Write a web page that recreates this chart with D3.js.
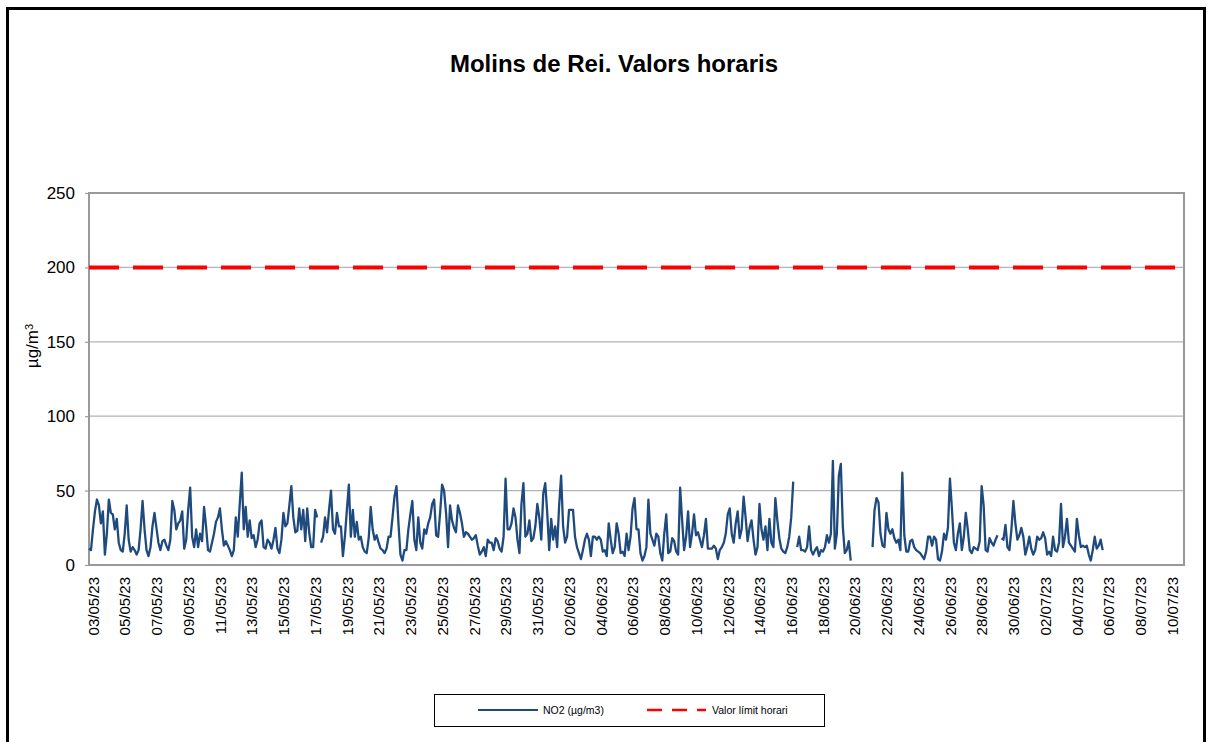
<!DOCTYPE html>
<html lang="ca">
<head>
    <meta charset="UTF-8">
    <title>Molins de Rei. Valors horaris</title>
    <script src="https://d3js.org/d3.v7.min.js"></script>
    <style>
        body {
            margin: 0;
            background: #fff;
            font-family: "Liberation Sans", Arial, sans-serif;
        }
        svg text {
            font-family: "Liberation Sans", Arial, sans-serif;
            fill: #000;
        }
    </style>
</head>
<body>
    <div id="chart"></div>
    <script>
        // first sample and spacing of the NO2 series (3-hour samples)
        var seriesStart = "03/05/23 00:00";
        var stepHours = 3;

        // NO2 (µg/m3), one row per day, 8 values a day (00h, 03h ... 21h); null = no data
        var no2Values = [
            11, 10, 24, 36, 44, 40, 28, 36,   // 03/05
            7, 21, 44, 35, 34, 24, 31, 15,    // 04/05
            10, 9, 21, 40, 17, 9, 12, 10,     // 05/05
            7, 10, 24, 43, 24, 10, 6, 12,     // 06/05
            26, 35, 25, 15, 10, 16, 17, 13,   // 07/05
            10, 17, 43, 37, 24, 28, 30, 36,   // 08/05
            11, 17, 37, 52, 19, 12, 24, 12,   // 09/05
            21, 16, 39, 26, 10, 9, 15, 21,    // 10/05
            29, 32, 38, 24, 13, 16, 13, 10,   // 11/05
            6, 10, 32, 19, 41, 62, 24, 39,    // 12/05
            19, 30, 18, 20, 12, 17, 28, 30,   // 13/05
            12, 11, 17, 15, 11, 17, 25, 11,   // 14/05
            8, 17, 35, 26, 28, 40, 53, 32,    // 15/05
            22, 23, 38, 24, 37, 16, 38, 22,   // 16/05
            12, 12, 37, 32, null, 15, 19, 32, // 17/05
            22, 37, 50, 24, 21, 35, 26, 26,   // 18/05
            6, 19, 37, 54, 19, 37, 19, 29,    // 19/05
            17, 19, 12, 9, 8, 18, 39, 24,     // 20/05
            17, 20, 15, 11, 10, 8, 11, 19,    // 21/05
            19, 32, 46, 53, 28, 7, 3, 10,     // 22/05
            10, 24, 34, 43, 17, 10, 32, 15,   // 23/05
            11, 24, 21, 28, 32, 41, 44, 20,   // 24/05
            19, 35, 54, 50, 35, 12, 40, 30,   // 25/05
            25, 22, 40, 35, 28, 19, 22, 21,   // 26/05
            19, 17, 18, 20, 13, 7, 9, 12,     // 27/05
            6, 17, 15, 15, 10, 18, 16, 11,    // 28/05
            9, 19, 58, 24, 24, 28, 38, 32,    // 29/05
            17, 8, 41, 55, 19, 21, 30, 16,    // 30/05
            18, 26, 41, 32, 17, 48, 55, 35,   // 31/05
            10, 31, 17, 26, 12, 40, 60, 26,   // 01/06
            15, 19, 37, 37, 37, 19, 12, 8,    // 02/06
            4, 10, 17, 21, 17, 6, 19, 19,     // 03/06
            17, 19, 17, 9, 10, 6, 28, 17,     // 04/06
            8, 12, 28, 21, 8, 9, 6, 21,       // 05/06
            10, 19, 38, 45, 24, 24, 8, 3,     // 06/06
            6, 12, 44, 21, 17, 13, 21, 19,    // 07/06
            8, 3, 21, 34, 8, 9, 18, 16,       // 08/06
            9, 7, 52, 30, 10, 19, 36, 12,     // 09/06
            21, 34, 20, 22, 17, 12, 20, 31,   // 10/06
            11, 11, 11, 13, 11, 4, 10, 12,    // 11/06
            15, 21, 34, 38, 21, 15, 28, 36,   // 12/06
            18, 24, 46, 32, 16, 25, 30, 17,   // 13/06
            7, 12, 41, 24, 17, 26, 10, 31,    // 14/06
            15, 12, 45, 30, 18, 11, 9, 8,     // 15/06
            12, 19, 32, 56, null, 12, 19, 10, // 16/06
            10, 9, 12, 26, 10, 7, 10, 12,     // 17/06
            6, 10, 9, 12, 20, 15, 21, 70,     // 18/06
            11, 21, 60, 68, 26, 8, 10, 16,    // 19/06
            3, null, null, null, null, null, null, null, // 20/06
            null, null, null, 12, 37, 45, 42, 21,        // 21/06
            13, 12, 35, 24, 21, 24, 18, 15,   // 22/06
            17, 10, 62, 20, 9, 9, 16, 17,     // 23/06
            12, 10, 9, 8, 6, 4, 9, 19,        // 24/06
            19, 13, 19, 17, 4, 3, 9, 21,      // 25/06
            17, 25, 58, 38, 15, 10, 21, 28,   // 26/06
            10, 19, 35, 24, 10, 8, 12, 11,    // 27/06
            10, 16, 53, 40, 10, 9, 18, 15,    // 28/06
            13, 17, 20, null, 18, 17, 27, 12, // 29/06
            10, 24, 43, 28, 17, 20, 25, 19,   // 30/06
            7, 12, 19, 11, 7, 10, 19, 17,     // 01/07
            18, 22, 18, 7, 9, 6, 19, 10,      // 02/07
            9, 15, 41, 12, 19, 31, 15, 13,    // 03/07
            11, 9, 31, 20, 12, 13, 12, 13,    // 04/07
            7, 3, 10, 19, 11, 13, 17, 10      // 05/07
        ];

        var limitValue = 200;

        var xDomain = ["03/05/23", "11/07/23"];
        var xTickLabels = [
            "03/05/23", "05/05/23", "07/05/23", "09/05/23", "11/05/23", "13/05/23",
            "15/05/23", "17/05/23", "19/05/23", "21/05/23", "23/05/23", "25/05/23",
            "27/05/23", "29/05/23", "31/05/23", "02/06/23", "04/06/23", "06/06/23",
            "08/06/23", "10/06/23", "12/06/23", "14/06/23", "16/06/23", "18/06/23",
            "20/06/23", "22/06/23", "24/06/23", "26/06/23", "28/06/23", "30/06/23",
            "02/07/23", "04/07/23", "06/07/23", "08/07/23", "10/07/23"
        ];
        var yTicks = [0, 50, 100, 150, 200, 250];

        var width = 1212,
            height = 742,
            plot = {left: 89, right: 1184, top: 193, bottom: 565};

        var parseDay = d3.timeParse("%d/%m/%y");
        var parseHour = d3.timeParse("%d/%m/%y %H:%M");
        var t0 = parseHour(seriesStart);

        var points = no2Values.map((v, i) => ({
            date: d3.timeHour.offset(t0, i * stepHours),
            value: v
        }));

        var svg = d3.select("#chart").append("svg")
            .attr("width", width)
            .attr("height", height);

        svg.append("rect")
            .attr("width", width).attr("height", height)
            .attr("fill", "#fff");

        // outer frame of the chart object
        svg.append("rect")
            .attr("x", 7.5).attr("y", 8.5)
            .attr("width", 1197).attr("height", 800)
            .attr("fill", "none")
            .attr("stroke", "#000")
            .attr("stroke-width", 3);

        var x = d3.scaleTime()
            .domain(xDomain.map(parseDay))
            .range([plot.left, plot.right]);

        var y = d3.scaleLinear()
            .domain([0, 250])
            .range([plot.bottom, plot.top]);

        // gridlines
        svg.append("g")
            .selectAll("line")
            .data(yTicks.filter(d => d > 0 && d < 250))
            .join("line")
            .attr("x1", plot.left).attr("x2", plot.right)
            .attr("y1", d => y(d)).attr("y2", d => y(d))
            .attr("stroke", "#b3b3b3")
            .attr("stroke-width", 1.2);

        // plot area border
        svg.append("rect")
            .attr("x", plot.left).attr("y", plot.top)
            .attr("width", plot.right - plot.left)
            .attr("height", plot.bottom - plot.top)
            .attr("fill", "none")
            .attr("stroke", "#999")
            .attr("stroke-width", 2);

        // y axis
        var yAxis = svg.append("g")
            .attr("transform", `translate(${plot.left},0)`)
            .call(d3.axisLeft(y).tickValues(yTicks).tickSize(4).tickPadding(10));
        yAxis.select(".domain").remove();
        yAxis.selectAll(".tick line").attr("stroke", "#999").attr("stroke-width", 1.2);
        yAxis.selectAll(".tick text")
            .style("font-size", "17px")
            .attr("fill", "#000");

        // x axis labels (rotated)
        var xAxis = svg.append("g")
            .attr("transform", `translate(0,${plot.bottom})`)
            .call(d3.axisBottom(x)
                .tickValues(xTickLabels.map(parseDay))
                .tickFormat(d3.timeFormat("%d/%m/%y"))
                .tickSize(0));
        xAxis.select(".domain").remove();
        xAxis.selectAll(".tick text")
            .style("font-size", "15px")
            .attr("text-anchor", "end")
            .attr("y", 0)
            .attr("dy", "0.35em")
            .attr("transform", "translate(4,12) rotate(-90)");

        // limit value line
        svg.append("line")
            .attr("x1", plot.left).attr("x2", plot.right)
            .attr("y1", y(limitValue)).attr("y2", y(limitValue))
            .attr("stroke", "#ff0000")
            .attr("stroke-width", 4)
            .attr("stroke-dasharray", "30,14");

        // NO2 series
        var line = d3.line()
            .defined(d => d.value != null)
            .x(d => x(d.date))
            .y(d => y(d.value));

        svg.append("path")
            .datum(points)
            .attr("d", line)
            .attr("fill", "none")
            .attr("stroke", "#1f4a7e")
            .attr("stroke-width", 2.3)
            .attr("stroke-linejoin", "round");

        // title
        svg.append("text")
            .attr("x", 614).attr("y", 72)
            .attr("text-anchor", "middle")
            .style("font-size", "24px")
            .style("font-weight", "bold")
            .text("Molins de Rei. Valors horaris");

        // y axis title
        var yTitle = svg.append("text")
            .attr("transform", "translate(38,346) rotate(-90)")
            .attr("text-anchor", "middle")
            .style("font-size", "17px");
        yTitle.append("tspan").text("µg/m");
        yTitle.append("tspan")
            .attr("dy", "-0.45em")
            .style("font-size", "11px")
            .text("3");

        // legend
        var legend = svg.append("g");
        legend.append("rect")
            .attr("x", 434.5).attr("y", 694.5)
            .attr("width", 390).attr("height", 32)
            .attr("fill", "#fff")
            .attr("stroke", "#000")
            .attr("stroke-width", 1);
        legend.append("line")
            .attr("x1", 478).attr("x2", 538)
            .attr("y1", 710).attr("y2", 710)
            .attr("stroke", "#1f4a7e")
            .attr("stroke-width", 2);
        legend.append("text")
            .attr("x", 543).attr("y", 714)
            .style("font-size", "10.5px")
            .text("NO2 (µg/m3)");
        legend.append("line")
            .attr("x1", 647).attr("x2", 706)
            .attr("y1", 710).attr("y2", 710)
            .attr("stroke", "#ff0000")
            .attr("stroke-width", 2.5)
            .attr("stroke-dasharray", "15,10");
        legend.append("text")
            .attr("x", 712).attr("y", 714)
            .style("font-size", "10.5px")
            .text("Valor límit horari");
    </script>
</body>
</html>
